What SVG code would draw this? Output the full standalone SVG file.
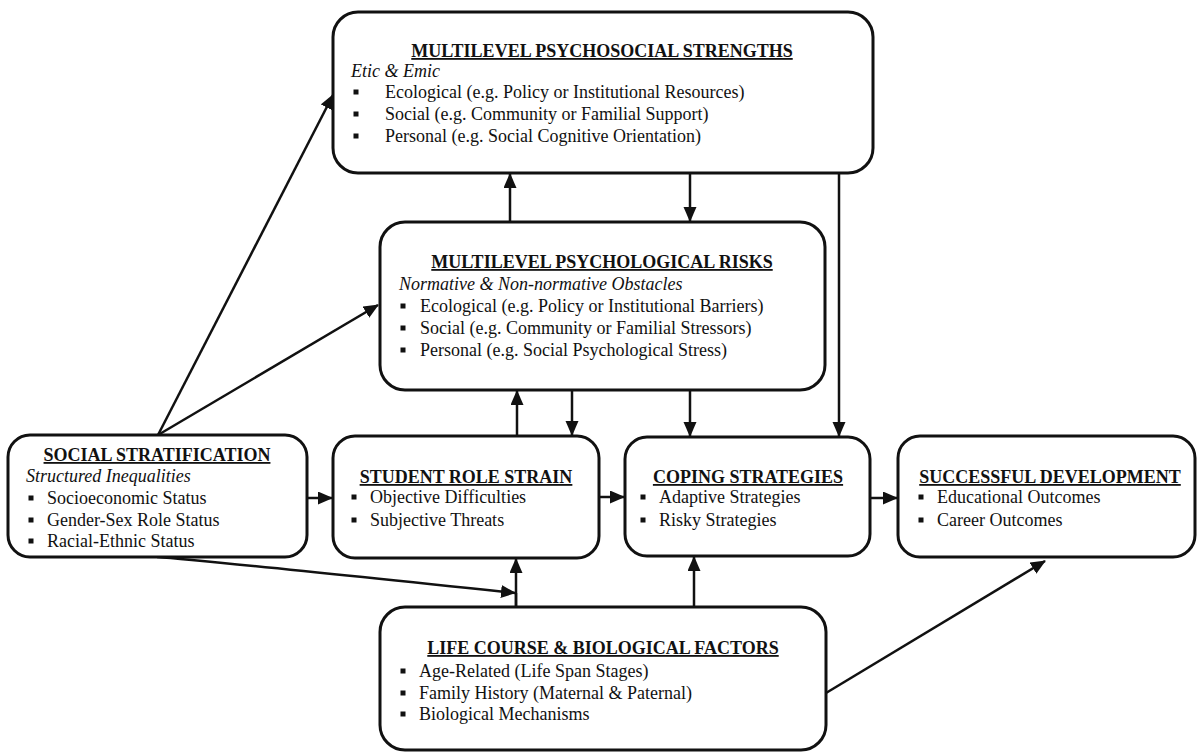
<svg xmlns="http://www.w3.org/2000/svg" width="1198" height="754" viewBox="0 0 1198 754">
<style>
.box{fill:#fff;stroke:#111;stroke-width:3}
.t{font-family:"Liberation Serif","Times New Roman",serif;font-size:18px;font-weight:bold;fill:#111;text-anchor:middle;text-decoration:underline}
.s{font-family:"Liberation Serif","Times New Roman",serif;font-size:18px;font-style:italic;fill:#111}
.b{font-family:"Liberation Serif","Times New Roman",serif;font-size:18px;fill:#111}
.c{fill:none;stroke:#111;stroke-width:2.5}
</style>
<defs>
<marker id="ah" markerUnits="userSpaceOnUse" markerWidth="16" markerHeight="14" refX="14" refY="6.5" orient="auto">
<path d="M0,0 L15,6.5 L0,13 z" fill="#111"/>
</marker>
<rect id="bl" x="-2.5" y="-2.5" width="5" height="5" fill="#111"/>
</defs>
<g id="connectors">
<path class="c" d="M158,435 L333,95" marker-end="url(#ah)"/>
<path class="c" d="M158,435 L378,305" marker-end="url(#ah)"/>
<path class="c" d="M307,498 L332,498" marker-end="url(#ah)"/>
<path class="c" d="M599,497 L624,497" marker-end="url(#ah)"/>
<path class="c" d="M870,498 L897,498" marker-end="url(#ah)"/>
<path class="c" d="M510,222 L510,174" marker-end="url(#ah)"/>
<path class="c" d="M690,173 L690,221" marker-end="url(#ah)"/>
<path class="c" d="M517,436 L517,391" marker-end="url(#ah)"/>
<path class="c" d="M572,390 L572,435" marker-end="url(#ah)"/>
<path class="c" d="M690,390 L690,436" marker-end="url(#ah)"/>
<path class="c" d="M839,173 L839,436" marker-end="url(#ah)"/>
<path class="c" d="M516,607 L516,559" marker-end="url(#ah)"/>
<path class="c" d="M694,607 L694,557" marker-end="url(#ah)"/>
<path class="c" d="M157,557 Q200,560 515,593" marker-end="url(#ah)"/>
<line class="c" x1="516" y1="593" x2="516" y2="607"/>
<path class="c" d="M826,693 L1045,561" marker-end="url(#ah)"/>
</g>
<g id="strengths">
<rect class="box" x="333" y="12" width="540" height="161" rx="25"/>
<text class="t" x="602" y="57">MULTILEVEL PSYCHOSOCIAL STRENGTHS</text>
<text class="s" x="351" y="77">Etic &amp; Emic</text>
<use href="#bl" x="356" y="92"/><text class="b" x="385" y="98">Ecological (e.g. Policy or Institutional Resources)</text>
<use href="#bl" x="356" y="114"/><text class="b" x="385" y="120">Social (e.g. Community or Familial Support)</text>
<use href="#bl" x="356" y="136"/><text class="b" x="385" y="142">Personal (e.g. Social Cognitive Orientation)</text>
</g>
<g id="risks">
<rect class="box" x="380" y="222" width="445" height="168" rx="25"/>
<text class="t" x="602" y="268">MULTILEVEL PSYCHOLOGICAL RISKS</text>
<text class="s" x="399" y="290">Normative &amp; Non-normative Obstacles</text>
<use href="#bl" x="403" y="306"/><text class="b" x="420" y="312">Ecological (e.g. Policy or Institutional Barriers)</text>
<use href="#bl" x="403" y="328"/><text class="b" x="420" y="334">Social (e.g. Community or Familial Stressors)</text>
<use href="#bl" x="403" y="350"/><text class="b" x="420" y="356">Personal (e.g. Social Psychological Stress)</text>
</g>
<g id="stratification">
<rect class="box" x="8" y="435" width="299" height="122" rx="22"/>
<text class="t" x="157" y="461">SOCIAL STRATIFICATION</text>
<text class="s" x="26" y="482">Structured Inequalities</text>
<use href="#bl" x="31" y="498"/><text class="b" x="47" y="504">Socioeconomic Status</text>
<use href="#bl" x="31" y="520"/><text class="b" x="47" y="526">Gender-Sex Role Status</text>
<use href="#bl" x="31" y="541"/><text class="b" x="47" y="547">Racial-Ethnic Status</text>
</g>
<g id="strain">
<rect class="box" x="333" y="436" width="266" height="122" rx="22"/>
<text class="t" x="466" y="483">STUDENT ROLE STRAIN</text>
<use href="#bl" x="354" y="497"/><text class="b" x="370" y="503">Objective Difficulties</text>
<use href="#bl" x="354" y="520"/><text class="b" x="370" y="526">Subjective Threats</text>
</g>
<g id="coping">
<rect class="box" x="625" y="437" width="245" height="119" rx="22"/>
<text class="t" x="748" y="483">COPING STRATEGIES</text>
<use href="#bl" x="643" y="497"/><text class="b" x="659" y="503">Adaptive Strategies</text>
<use href="#bl" x="643" y="520"/><text class="b" x="659" y="526">Risky Strategies</text>
</g>
<g id="development">
<rect class="box" x="898" y="436" width="297" height="121" rx="22"/>
<text class="t" x="1050" y="483">SUCCESSFUL DEVELOPMENT</text>
<use href="#bl" x="921" y="497"/><text class="b" x="937" y="503">Educational Outcomes</text>
<use href="#bl" x="921" y="520"/><text class="b" x="937" y="526">Career Outcomes</text>
</g>
<g id="lifecourse">
<rect class="box" x="380" y="607" width="446" height="143" rx="25"/>
<text class="t" x="603" y="654">LIFE COURSE &amp; BIOLOGICAL FACTORS</text>
<use href="#bl" x="403" y="671"/><text class="b" x="419" y="677">Age-Related (Life Span Stages)</text>
<use href="#bl" x="403" y="693"/><text class="b" x="419" y="699">Family History (Maternal &amp; Paternal)</text>
<use href="#bl" x="403" y="714"/><text class="b" x="419" y="720">Biological Mechanisms</text>
</g>
</svg>
